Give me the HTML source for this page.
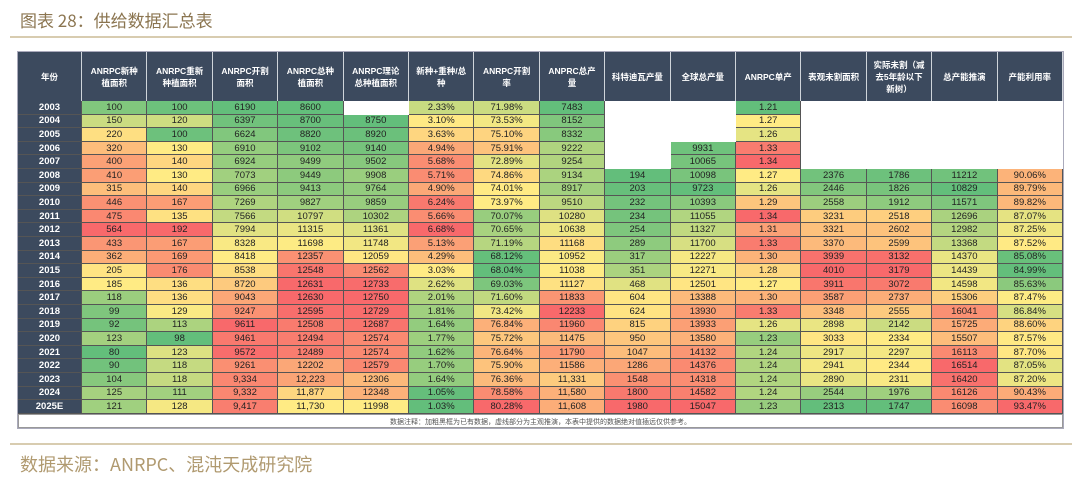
<!DOCTYPE html>
<html><head><meta charset="utf-8">
<style>
body{margin:0;width:1080px;height:483px;background:#fff;position:relative;overflow:hidden;font-family:"Liberation Sans","Noto Sans CJK SC",sans-serif;}
.t{position:absolute;}
.c{position:absolute;box-sizing:border-box;display:flex;align-items:center;justify-content:center;font-size:9.5px;color:#222;border-right:1px solid #555;border-bottom:1px solid #555;white-space:nowrap;}
.h{position:absolute;box-sizing:border-box;display:flex;align-items:center;justify-content:center;text-align:center;font-size:8.5px;font-weight:bold;color:#fff;background:#3c4a5e;border-right:1px solid #cfd4da;line-height:12px;padding:0 6px;}
</style></head><body>
<div class="t" style="left:20px;top:7px;font-size:17px;color:#8b7550;font-family:'Noto Sans CJK SC',sans-serif;">图表 28：供给数据汇总表</div>
<div class="t" style="left:10px;top:36px;width:1062px;height:2px;background:#d8ccb0;"></div>
<div class="t" id="tbl" style="left:18px;top:52px;width:1045px;height:376px;outline:1px solid #aab;"></div>
<div class="t" style="left:18px;top:414px;width:1045px;height:14px;font-size:7px;color:#555;text-align:center;line-height:14px;border:1px solid #999;box-sizing:border-box;font-family:'Noto Sans CJK SC',sans-serif;">数据注释：加粗黑框为已有数据，虚线部分为主观推演，本表中提供的数据绝对值插远仅供参考。</div>
<div class="t" style="left:10px;top:443px;width:1062px;height:2px;background:#d8ccb0;"></div>
<div class="t" style="left:20px;top:451px;font-size:18px;color:#b09a70;font-family:'Noto Sans CJK SC',sans-serif;">数据来源：ANRPC、混沌天成研究院</div>
<script>
const years=["2003","2004","2005","2006","2007","2008","2009","2010","2011","2012","2013","2014","2015","2016","2017","2018","2019","2020","2021","2022","2023","2024","2025E"];
const headers=["ANRPC新种植面积","ANRPC重新种植面积","ANRPC开割面积","ANRPC总种植面积","ANRPC理论总种植面积","新种+重种/总种","ANRPC开割率","ANPRC总产量","科特迪瓦产量","全球总产量","ANRPC单产","表观未割面积","实际未割（减去5年龄以下新树）","总产能推演","产能利用率"];
const newArea=[100,150,220,320,400,410,315,446,475,564,433,362,205,185,118,99,92,123,80,90,104,125,121];
const replant=[100,120,100,130,140,130,140,167,135,192,167,169,176,136,136,129,113,98,123,118,118,111,128];
const tapped=[6190,6397,6624,6910,6924,7073,6966,7269,7566,7994,8328,8418,8538,8720,9043,9247,9611,9461,9572,9261,9334,9332,9417];
const totalArea=[8600,8700,8820,9102,9499,9449,9413,9827,10797,11315,11698,12357,12548,12631,12630,12595,12508,12494,12489,12202,12223,11877,11730];
const theory=[null,8750,8920,9140,9502,9908,9764,9859,10302,11361,11748,12059,12562,12733,12750,12729,12687,12574,12574,12579,12306,12348,11998];
const ratio=[2.33,3.10,3.63,4.94,5.68,5.71,4.90,6.24,5.66,6.68,5.13,4.29,3.03,2.62,2.01,1.81,1.64,1.77,1.62,1.70,1.64,1.05,1.03];
const tapRate=[71.98,73.53,75.10,75.91,72.89,74.86,74.01,73.97,70.07,70.65,71.19,68.12,68.04,69.03,71.60,73.42,76.84,75.72,76.64,75.90,76.36,78.58,80.28];
const prod=[7483,8152,8332,9222,9254,9134,8917,9510,10280,10638,11168,10952,11038,11127,11833,12233,11960,11475,11790,11586,11331,11580,11608];
const civ=[null,null,null,null,null,194,203,232,234,254,289,317,351,468,604,624,815,950,1047,1286,1548,1800,1980];
const globalProd=[null,null,null,9931,10065,10098,9723,10393,11055,11327,11700,12227,12271,12501,13388,13930,13933,13580,14132,14376,14318,14582,15047];
const yieldR=[1.21,1.27,1.26,1.33,1.34,1.27,1.26,1.29,1.34,1.31,1.33,1.30,1.28,1.27,1.30,1.33,1.26,1.23,1.24,1.24,1.24,1.24,1.23];
const apparent=[null,null,null,null,null,2376,2446,2558,3231,3321,3370,3939,4010,3911,3587,3348,2898,3033,2917,2941,2890,2544,2313];
const actual=[null,null,null,null,null,1786,1826,1912,2518,2602,2599,3132,3179,3072,2737,2555,2142,2334,2297,2344,2311,1976,1747];
const capacity=[null,null,null,null,null,11212,10829,11571,12696,12982,13368,14370,14439,14598,15306,16041,15725,15507,16113,16514,16420,16126,16098];
const util=[null,null,null,null,null,90.06,89.79,89.82,87.07,87.25,87.52,85.08,84.99,85.63,87.47,86.84,88.60,87.57,87.70,87.05,87.20,90.43,93.47];
const cols=[newArea,replant,tapped,totalArea,theory,ratio,tapRate,prod,civ,globalProd,yieldR,apparent,actual,capacity,util];
const fmts=["i","i","c","c","i","p","p","c","i","i","f","i","i","i","p"];
const tbl=document.getElementById('tbl');
const X0=64,CW=65.4,HH=49,RH=13.6;
function lerp(a,b,t){return a.map((v,i)=>Math.round(v+(b[i]-v)*t));}
const G=[99,190,123],Y=[255,235,132],R=[248,105,107];
function color(v,arr){const s=arr.filter(x=>x!=null).slice().sort((a,b)=>a-b);const mn=s[0],mx=s[s.length-1];const n=s.length;const md=n%2?s[(n-1)/2]:(s[n/2-1]+s[n/2])/2;let c;if(v<=md)c=lerp(G,Y,md===mn?0:(v-mn)/(md-mn));else c=lerp(Y,R,(v-md)/(mx-md));return 'rgb('+c.join(',')+')';}
function fmt(v,f,r){if(f==='p')return v.toFixed(2)+'%';if(f==='f')return v.toFixed(2);if(f==='c'&&r>=20)return v.toLocaleString('en-US');return String(v);}
let h=document.createElement('div');h.className='h';


h.style.cssText='left:0;top:0;width:'+X0+'px;height:'+HH+'px;';h.textContent='年份';tbl.appendChild(h);
headers.forEach((t,j)=>{const d=document.createElement('div');d.className='h';


d.style.cssText='left:'+(X0+j*CW)+'px;top:0;width:'+CW+'px;height:'+HH+'px;';d.textContent=t;tbl.appendChild(d);});
years.forEach((y,r)=>{const top=HH+r*RH;const d=document.createElement('div');d.className='c';


d.style.cssText='left:0;top:'+top+'px;width:'+X0+'px;height:'+RH+'px;background:#3c4a5e;color:#fff;font-weight:bold;font-size:9.5px;';d.textContent=y;tbl.appendChild(d);
cols.forEach((arr,j)=>{const v=arr[r];const c=document.createElement('div');c.className='c';


let st='left:'+(X0+j*CW)+'px;top:'+top+'px;width:'+CW+'px;height:'+RH+'px;';
if(v==null){st+='background:#fff;border-color:#fff;';}else{st+='background:'+color(v,arr)+';';c.textContent=fmt(v,fmts[j],r);}
c.style.cssText=st;tbl.appendChild(c);});});
</script>
</body></html>
